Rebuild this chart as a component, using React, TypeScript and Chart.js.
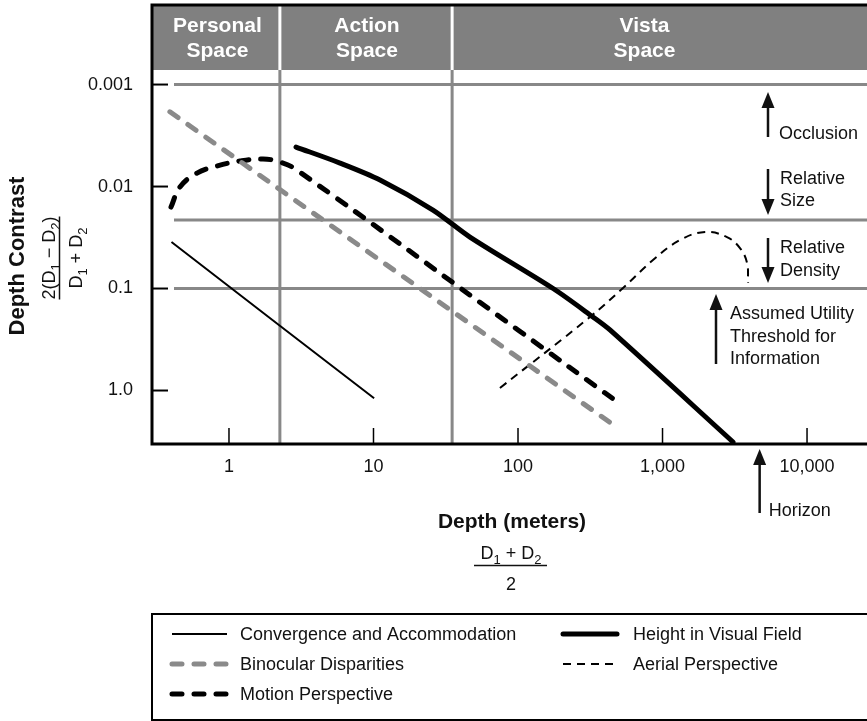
import React, { useEffect, useRef } from "react";
import { Chart, registerables } from "chart.js";

Chart.register(...registerables);

const FONT = '"Liberation Sans", Arial, Helvetica, sans-serif';
const INK = "#111111";
const GRID_GRAY = "#888888";

// ---- axes ----
const xTicks = [1, 10, 100, 1000, 10000];
const xTickLabels = ["1", "10", "100", "1,000", "10,000"];
const yTicks = [0.001, 0.01, 0.1, 1];
const yTickLabels = ["0.001", "0.01", "0.1", "1.0"];
const X_MIN = 0.298;
const X_MAX = 26000;
const Y_MIN = 0.000166;
const Y_MAX = 3.345;

// ---- zones & reference lines ----
const zoneNames = [
  ["Personal", "Space"],
  ["Action", "Space"],
  ["Vista", "Space"],
];
const zoneEdges = [X_MIN, 2.25, 35, 15600];
const thresholdLines = [0.001, 0.0213, 0.1];
const horizonDepth = 4700;

// ---- series ----
const convergenceDepth = [0.4, 2.25, 10.1];
const convergenceContrast = [0.035, 0.232, 1.19];

const binocularDepth = [0.39, 2.25, 21, 480];
const binocularContrast = [0.00185, 0.0107, 0.1, 2.28];

const motionDepth = [0.397, 0.458, 0.601, 0.826, 1.19, 1.72, 2.25, 2.95, 100, 500];
const motionContrast = [0.0159, 0.0101, 0.00738, 0.00629, 0.00562, 0.00537, 0.00575, 0.00689, 0.255, 1.33];

const heightDepth = [2.91, 5.87, 11.1, 25.8, 46.5, 175, 330, 433, 3076];
const heightContrast = [0.0041, 0.00589, 0.00863, 0.017, 0.0313, 0.1, 0.19, 0.255, 3.2];

const aerialDepth = [75, 315, 533, 859, 1321, 1968, 2792, 3436, 3846, 3908];
const aerialContrast = [0.944, 0.19, 0.0989, 0.0526, 0.0335, 0.0279, 0.0313, 0.0401, 0.0562, 0.0883];

const seriesNames = [
  "Convergence and Accommodation",
  "Binocular Disparities",
  "Motion Perspective",
  "Height in Visual Field",
  "Aerial Perspective",
];

const annotationTexts = [
  ["Occlusion"],
  ["Relative", "Size"],
  ["Relative", "Density"],
  ["Assumed Utility", "Threshold for", "Information"],
  ["Horizon"],
];

const toPoints = (xs: number[], ys: number[]) => xs.map((x, i) => ({ x, y: ys[i] }));

function drawArrow(ctx: CanvasRenderingContext2D, x: number, tail: number, tip: number) {
  const dir = Math.sign(tip - tail);
  const head = 16;
  const half = 6.5;
  ctx.lineWidth = 2.5;
  ctx.beginPath();
  ctx.moveTo(x, tail);
  ctx.lineTo(x, tip - dir * (head - 2));
  ctx.stroke();
  ctx.beginPath();
  ctx.moveTo(x, tip);
  ctx.lineTo(x - half, tip - dir * head);
  ctx.lineTo(x + half, tip - dir * head);
  ctx.closePath();
  ctx.fill();
}

type Seg = [string, boolean];
function segWidth(ctx: CanvasRenderingContext2D, segs: Seg[], big: string, small: string) {
  let w = 0;
  for (const [t, sub] of segs) {
    ctx.font = sub ? small : big;
    w += ctx.measureText(t).width;
  }
  return w;
}
function drawSegs(ctx: CanvasRenderingContext2D, segs: Seg[], cx: number, baseY: number, big: string, small: string) {
  const w = segWidth(ctx, segs, big, small);
  let x = cx - w / 2;
  ctx.textAlign = "left";
  ctx.textBaseline = "alphabetic";
  for (const [t, sub] of segs) {
    ctx.font = sub ? small : big;
    ctx.fillText(t, x, baseY + (sub ? 5 : 0));
    x += ctx.measureText(t).width;
  }
  return w;
}

const decorPlugin = {
  id: "decor",
  beforeDatasetsDraw(chart: any) {
    const { ctx, chartArea: a, scales } = chart;
    const xs = scales.x;
    const ys = scales.y;
    ctx.save();
    // reference lines
    ctx.strokeStyle = GRID_GRAY;
    ctx.lineWidth = 3;
    thresholdLines.forEach((v) => {
      const y = ys.getPixelForValue(v);
      ctx.beginPath();
      ctx.moveTo(a.left + 21, y);
      ctx.lineTo(a.right, y);
      ctx.stroke();
    });
    // header band
    const headerBottom = a.top + 65;
    ctx.fillStyle = "#808080";
    ctx.fillRect(a.left, a.top, a.right - a.left, headerBottom - a.top);
    // zone separators
    zoneEdges.slice(1, -1).forEach((v) => {
      const x = xs.getPixelForValue(v);
      ctx.lineWidth = 3;
      ctx.strokeStyle = GRID_GRAY;
      ctx.beginPath();
      ctx.moveTo(x, headerBottom);
      ctx.lineTo(x, a.bottom);
      ctx.stroke();
      ctx.strokeStyle = "#ffffff";
      ctx.beginPath();
      ctx.moveTo(x, a.top);
      ctx.lineTo(x, headerBottom);
      ctx.stroke();
    });
    // zone labels
    ctx.fillStyle = "#ffffff";
    ctx.font = `bold 21px ${FONT}`;
    ctx.textAlign = "center";
    ctx.textBaseline = "alphabetic";
    zoneNames.forEach((lines, i) => {
      const x0 = Math.max(xs.getPixelForValue(zoneEdges[i]), a.left);
      const x1 = xs.getPixelForValue(zoneEdges[i + 1]);
      const cx = (x0 + x1) / 2 + 1;
      lines.forEach((t, j) => ctx.fillText(t, cx, a.top + 27 + j * 25));
    });
    ctx.restore();
  },
  afterDraw(chart: any) {
    const { ctx, chartArea: a, scales, data } = chart;
    const xs = scales.x;
    const ys = scales.y;
    ctx.save();
    // frame
    ctx.strokeStyle = "#000";
    ctx.lineWidth = 3;
    ctx.beginPath();
    ctx.moveTo(a.right + 2, a.top);
    ctx.lineTo(a.left - 1, a.top);
    ctx.lineTo(a.left - 1, a.bottom);
    ctx.lineTo(a.right + 2, a.bottom);
    ctx.stroke();
    // inner ticks
    ctx.lineWidth = 2;
    yTicks.forEach((v) => {
      const y = ys.getPixelForValue(v);
      ctx.beginPath();
      ctx.moveTo(a.left, y);
      ctx.lineTo(a.left + 15, y);
      ctx.stroke();
    });
    ctx.lineWidth = 1.5;
    xTicks.forEach((v) => {
      const x = xs.getPixelForValue(v);
      ctx.beginPath();
      ctx.moveTo(x, a.bottom);
      ctx.lineTo(x, a.bottom - 16);
      ctx.stroke();
    });

    // annotations
    ctx.fillStyle = INK;
    ctx.strokeStyle = INK;
    ctx.font = `18px ${FONT}`;
    ctx.textAlign = "left";
    ctx.textBaseline = "alphabetic";
    drawArrow(ctx, 768, 137, 92);
    ctx.fillText(annotationTexts[0][0], 779, 139);
    drawArrow(ctx, 768, 169, 215);
    annotationTexts[1].forEach((t, j) => ctx.fillText(t, 780, 184 + j * 22));
    drawArrow(ctx, 768, 238, 283);
    annotationTexts[2].forEach((t, j) => ctx.fillText(t, 780, 253 + j * 23));
    drawArrow(ctx, 716, 364, 294);
    annotationTexts[3].forEach((t, j) => ctx.fillText(t, 730, 319 + j * 22.5));
    const hx = xs.getPixelForValue(horizonDepth);
    drawArrow(ctx, hx, 513, a.bottom + 5);
    ctx.fillText(annotationTexts[4][0], hx + 9, 516);

    // x title
    const bigB = `bold 21px ${FONT}`;
    const bigBY = `bold 22px ${FONT}`;
    const fBig = `18px ${FONT}`;
    const fSmall = `13px ${FONT}`;
    ctx.textAlign = "center";
    ctx.font = bigB;
    ctx.fillText("Depth (meters)", 512, 528);
    const xNum: Seg[] = [["D", false], ["1", true], [" + D", false], ["2", true]];
    drawSegs(ctx, xNum, 511, 559, fBig, fSmall);
    ctx.lineWidth = 1.5;
    ctx.beginPath();
    ctx.moveTo(474, 565.5);
    ctx.lineTo(547, 565.5);
    ctx.stroke();
    ctx.textAlign = "center";
    ctx.font = fBig;
    ctx.fillText("2", 511, 590);

    // y title (rotated)
    ctx.save();
    ctx.translate(24, 256);
    ctx.rotate(-Math.PI / 2);
    ctx.textAlign = "center";
    ctx.font = bigBY;
    ctx.fillText("Depth Contrast", 0, 0);
    ctx.restore();
    ctx.save();
    ctx.translate(0, 258);
    ctx.rotate(-Math.PI / 2);
    const yNum: Seg[] = [["2(D", false], ["1", true], [" \u2212 D", false], ["2", true], [")", false]];
    drawSegs(ctx, yNum, 0, 55, fBig, fSmall);
    const yDen: Seg[] = [["D", false], ["1", true], [" + D", false], ["2", true]];
    drawSegs(ctx, yDen, 0, 82, fBig, fSmall);
    ctx.lineWidth = 1.5;
    ctx.beginPath();
    ctx.moveTo(-41.5, 59.5);
    ctx.lineTo(41.5, 59.5);
    ctx.stroke();
    ctx.restore();

    // legend box
    ctx.strokeStyle = "#000";
    ctx.lineWidth = 2;
    ctx.strokeRect(152, 614, 730, 106);
    const slots = [
      { col: 0, row: 0 },
      { col: 0, row: 1 },
      { col: 0, row: 2 },
      { col: 1, row: 0 },
      { col: 1, row: 1 },
    ];
    const colX = [[172, 227, 240], [563, 617, 633]];
    const rowY = [634, 664, 694];
    ctx.font = fBig;
    ctx.textAlign = "left";
    ctx.textBaseline = "middle";
    data.datasets.forEach((ds: any, i: number) => {
      const s = slots[i];
      const [sx0, sx1, tx] = colX[s.col];
      const y = rowY[s.row];
      ctx.save();
      ctx.strokeStyle = ds.borderColor;
      ctx.lineWidth = ds.borderWidth;
      ctx.lineCap = ds.borderCapStyle || "butt";
      ctx.setLineDash(ds.borderDash || []);
      ctx.beginPath();
      ctx.moveTo(sx0, y);
      ctx.lineTo(sx1, y);
      ctx.stroke();
      ctx.restore();
      ctx.fillStyle = INK;
      ctx.fillText(ds.label, tx, y + 1);
    });
    ctx.restore();
  },
};

export default function App() {
  const ref = useRef<HTMLCanvasElement>(null);
  useEffect(() => {
    const canvas = ref.current;
    if (!canvas) return;
    const datasets = [
      {
        label: seriesNames[0],
        data: toPoints(convergenceDepth, convergenceContrast),
        borderColor: "#000000",
        borderWidth: 2,
        tension: 0,
        borderCapStyle: "butt",
      },
      {
        label: seriesNames[1],
        data: toPoints(binocularDepth, binocularContrast),
        borderColor: "#8a8a8a",
        borderWidth: 5,
        borderDash: [10, 12],
        borderCapStyle: "round",
        tension: 0,
      },
      {
        label: seriesNames[2],
        data: toPoints(motionDepth, motionContrast),
        borderColor: "#000000",
        borderWidth: 5,
        borderDash: [10, 12],
        borderCapStyle: "round",
        tension: 0.4,
      },
      {
        label: seriesNames[3],
        data: toPoints(heightDepth, heightContrast),
        borderColor: "#000000",
        borderWidth: 5,
        borderCapStyle: "round",
        tension: 0.3,
      },
      {
        label: seriesNames[4],
        data: toPoints(aerialDepth, aerialContrast),
        borderColor: "#000000",
        borderWidth: 2,
        borderDash: [8, 6],
        borderCapStyle: "butt",
        tension: 0.4,
      },
    ];
    const tickFont = { family: FONT, size: 18 };
    const chart = new Chart(canvas, {
      type: "line",
      data: { datasets } as any,
      options: {
        animation: false,
        responsive: false,
        maintainAspectRatio: false,
        layout: { padding: { top: 5, left: 0, right: 0, bottom: 0 } },
        elements: { point: { radius: 0, hoverRadius: 0 } },
        plugins: { legend: { display: false }, tooltip: { enabled: false } },
        scales: {
          x: {
            type: "logarithmic",
            position: "bottom",
            min: X_MIN,
            max: X_MAX,
            bounds: "data",
            grid: { display: false, drawTicks: false },
            border: { display: false },
            ticks: {
              font: tickFont,
              color: INK,
              padding: 12,
              autoSkip: false,
              maxRotation: 0,
              minRotation: 0,
              callback: (v: any) => {
                const i = xTicks.indexOf(Number(v));
                return i >= 0 ? xTickLabels[i] : "";
              },
            },
            afterBuildTicks: (s: any) => {
              s.ticks = xTicks.map((value) => ({ value }));
            },
            afterFit: (s: any) => {
              s.height = 721 - 444;
              s.paddingLeft = 0;
              s.paddingRight = 0;
              s.paddingTop = 0;
              s.paddingBottom = 0;
            },
          },
          y: {
            type: "logarithmic",
            position: "left",
            reverse: true,
            min: Y_MIN,
            max: Y_MAX,
            bounds: "data",
            grid: { display: false, drawTicks: false },
            border: { display: false },
            ticks: {
              font: tickFont,
              color: INK,
              padding: 20,
              autoSkip: false,
              callback: (v: any) => {
                const i = yTicks.indexOf(Number(v));
                return i >= 0 ? yTickLabels[i] : "";
              },
            },
            afterBuildTicks: (s: any) => {
              s.ticks = yTicks.map((value) => ({ value }));
            },
            afterFit: (s: any) => {
              s.width = 153;
              s.paddingLeft = 0;
              s.paddingRight = 0;
              s.paddingTop = 0;
              s.paddingBottom = 0;
            },
          },
        },
      } as any,
      plugins: [decorPlugin],
    });
    return () => chart.destroy();
  }, []);
  return (
    <canvas
      ref={ref}
      width={867}
      height={721}
      style={{ position: "absolute", left: 0, top: 0, width: 867, height: 721, display: "block" }}
    />
  );
}
